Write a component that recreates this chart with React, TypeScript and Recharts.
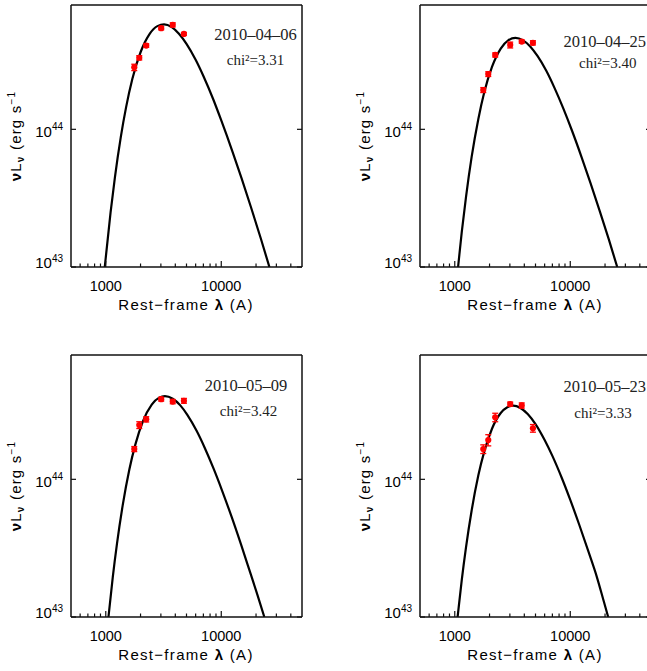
import React from "react";
import { ComposedChart, ErrorBar, Line, Scatter, XAxis, YAxis } from "recharts";

const SANS = '"Liberation Sans", Arial, Helvetica, sans-serif';
const SERIF = '"Liberation Serif", "Times New Roman", serif';

// axes
const X_DOMAIN = [500, 50000];
const Y_DOMAIN = [1e43, 8e44];
const X_TICKS = [600, 700, 800, 900, 1000, 2000, 3000, 4000, 5000, 6000, 7000, 8000, 9000, 10000, 20000, 30000, 40000];
const X_LABELED = [1000, 10000];
const Y_TICKS = [1e43, 1e44];
const Y_EXPONENTS = ["43", "44"];

// epochs
const DATES = ["2010–04–06", "2010–04–25", "2010–05–09", "2010–05–23"];
const CHI2 = ["3.31", "3.40", "3.42", "3.33"];

// UVOT photometry, rest-frame wavelength (A)
const FILTER_LAMBDA = [1765, 1950, 2240, 3020, 3800, 4750];

const OBS_0406 = [2.82e44, 3.31e44, 4.06e44, 5.43e44, 5.74e44, 4.93e44];
const ERR_0406 = [0.15e44, 0.12e44, 0.12e44, 0.15e44, 0.2e44, 0.12e44];
const OBS_0425 = [1.93e44, 2.52e44, 3.47e44, 4.1e44, 4.34e44, 4.25e44];
const ERR_0425 = [0.08e44, 0.1e44, 0.12e44, 0.2e44, 0.12e44, 0.15e44];
const OBS_0509 = [1.66e44, 2.48e44, 2.73e44, 3.82e44, 3.67e44, 3.72e44];
const ERR_0509 = [0.07e44, 0.14e44, 0.12e44, 0.12e44, 0.13e44, 0.15e44];
const OBS_0523 = [1.66e44, 1.93e44, 2.82e44, 3.52e44, 3.44e44, 2.35e44];
const ERR_0523 = [0.12e44, 0.18e44, 0.2e44, 0.12e44, 0.15e44, 0.15e44];

// fitted blackbody curves
const MODEL_LAMBDA_0406 = [980, 1100, 1200, 1350, 1500, 1700, 2000, 2400, 2800, 3200, 3700, 4300, 5000, 6000, 7000, 8500, 10000, 12500, 15000, 18000, 22000, 26100];
const MODEL_0406 = [1.0e43, 2.48e43, 4.48e43, 8.81e43, 1.45e44, 2.33e44, 3.63e44, 4.94e44, 5.62e44, 5.78e44, 5.55e44, 4.95e44, 4.18e44, 3.2e44, 2.44e44, 1.66e44, 1.16e44, 6.9e43, 4.4e43, 2.75e43, 1.61e43, 1.0e43];

const MODEL_LAMBDA_0425 = [1068, 1150, 1250, 1400, 1600, 1800, 2100, 2500, 2900, 3350, 3900, 4500, 5200, 6200, 7300, 8700, 10300, 12500, 15000, 18000, 21500, 25500];
const MODEL_0425 = [1.0e43, 1.8e43, 3.21e43, 6.3e43, 1.19e44, 1.86e44, 2.84e44, 3.86e44, 4.43e44, 4.61e44, 4.43e44, 4.0e44, 3.41e44, 2.66e44, 2.0e44, 1.42e44, 9.89e43, 6.32e43, 4.05e43, 2.55e43, 1.6e43, 1.0e43];

const MODEL_LAMBDA_0509 = [1055, 1150, 1250, 1400, 1600, 1800, 2100, 2500, 2900, 3250, 3800, 4400, 5100, 6100, 7200, 8600, 10200, 12300, 14800, 17500, 20500, 23600];
const MODEL_0509 = [1.0e43, 1.95e43, 3.4e43, 6.44e43, 1.18e44, 1.78e44, 2.65e44, 3.49e44, 3.92e44, 4.02e44, 3.85e44, 3.46e44, 2.93e44, 2.26e44, 1.69e44, 1.19e44, 8.22e43, 5.33e43, 3.38e43, 2.2e43, 1.46e43, 1.0e43];

const MODEL_LAMBDA_0523 = [1058, 1150, 1250, 1400, 1600, 1800, 2100, 2500, 2850, 3200, 3700, 4300, 5000, 6000, 7000, 8500, 10000, 12000, 14500, 17000, 19500, 21300];
const MODEL_0523 = [1.0e43, 1.86e43, 3.19e43, 5.94e43, 1.07e44, 1.59e44, 2.33e44, 3.03e44, 3.34e44, 3.43e44, 3.3e44, 2.97e44, 2.52e44, 1.93e44, 1.48e44, 1.01e44, 7.09e43, 4.64e43, 2.92e43, 1.95e43, 1.3e43, 1.0e43];

const PANELS = [
  { lam: MODEL_LAMBDA_0406, model: MODEL_0406, obs: OBS_0406, err: ERR_0406 },
  { lam: MODEL_LAMBDA_0425, model: MODEL_0425, obs: OBS_0425, err: ERR_0425 },
  { lam: MODEL_LAMBDA_0509, model: MODEL_0509, obs: OBS_0509, err: ERR_0509 },
  { lam: MODEL_LAMBDA_0523, model: MODEL_0523, obs: OBS_0523, err: ERR_0523 },
];

// layout
const PANEL_W = 320;
const PANEL_H = 320;
const PANEL_POS = [
  { left: 0, top: 0 },
  { left: 349, top: 0 },
  { left: 0, top: 350 },
  { left: 349, top: 350 },
];
const NOTE_POS = [
  { dateX: 255.5, dateY: 40, chiX: 255.5, chiY: 65 },
  { dateX: 255.7, dateY: 46.5, chiX: 258.8, chiY: 68.3 },
  { dateX: 246, dateY: 41, chiX: 248.5, chiY: 66 },
  { dateX: 255.7, dateY: 41.7, chiX: 254, chiY: 68.3 },
];
const AXIS_LINE = { stroke: "#111", strokeWidth: 1.5 };

const xTick = (side: "top" | "bottom") => (props: any) => {
  const { x, y, payload } = props;
  const major = X_LABELED.includes(payload.value);
  const len = major ? 6 : 3.5;
  const dir = side === "bottom" ? -1 : 1;
  return (
    <g>
      <line x1={x} x2={x} y1={y} y2={y + dir * len} stroke="#111" strokeWidth={1.2} />
      {side === "bottom" && major && (
        <text x={x} y={y + 23.5} textAnchor="middle" fontFamily={SANS} fontSize={14.5} fill="#000">
          {payload.value}
        </text>
      )}
    </g>
  );
};

const yTick = (side: "left" | "right") => (props: any) => {
  const { x, y, payload } = props;
  const dir = side === "left" ? 1 : -1;
  const i = Y_TICKS.indexOf(payload.value);
  const atBottom = payload.value === Y_DOMAIN[0];
  return (
    <g>
      <line x1={x} x2={x + dir * 5} y1={y} y2={y} stroke="#111" strokeWidth={1.2} />
      {side === "left" && (
        <text x={x - 8} y={atBottom ? y + 1 : y + 7.3} textAnchor="end" fontFamily={SANS} fontSize={15} fill="#000">
          10
          <tspan fontSize={10} dy={-6.5}>
            {Y_EXPONENTS[i]}
          </tspan>
        </text>
      )}
    </g>
  );
};

function Dot(props: any) {
  const { cx, cy } = props;
  return <circle cx={cx} cy={cy} r={3.1} fill="#ff0000" />;
}

function SedPanel({ idx }: { idx: number }) {
  const p = PANELS[idx];
  const pos = PANEL_POS[idx];
  const note = NOTE_POS[idx];
  const curve = p.lam.map((lam, i) => ({ lam, L: p.model[i] }));
  const points = FILTER_LAMBDA.map((lam, i) => ({ lam, L: p.obs[i], err: p.err[i] }));

  return (
    <div style={{ position: "absolute", left: pos.left, top: pos.top, width: PANEL_W, height: PANEL_H }}>
      <ComposedChart width={PANEL_W} height={PANEL_H} margin={{ top: 0, right: 0, bottom: 0, left: 0 }}>
        <XAxis
          type="number"
          dataKey="lam"
          scale="log"
          domain={X_DOMAIN}
          allowDataOverflow
          ticks={X_TICKS}
          interval={0}
          height={53}
          tickSize={0}
          tickMargin={0}
          tickLine={false}
          axisLine={AXIS_LINE}
          tick={xTick("bottom")}
        />
        <XAxis
          xAxisId="top"
          orientation="top"
          type="number"
          scale="log"
          domain={X_DOMAIN}
          allowDataOverflow
          ticks={X_TICKS}
          interval={0}
          height={5}
          tickSize={0}
          tickMargin={0}
          tickLine={false}
          axisLine={AXIS_LINE}
          tick={xTick("top")}
        />
        <YAxis
          type="number"
          dataKey="L"
          scale="log"
          domain={Y_DOMAIN}
          allowDataOverflow
          ticks={Y_TICKS}
          interval={0}
          width={71}
          tickSize={0}
          tickMargin={0}
          tickLine={false}
          axisLine={AXIS_LINE}
          tick={yTick("left")}
        />
        <YAxis
          yAxisId="right"
          orientation="right"
          type="number"
          scale="log"
          domain={Y_DOMAIN}
          allowDataOverflow
          ticks={Y_TICKS}
          interval={0}
          width={18}
          tickSize={0}
          tickMargin={0}
          tickLine={false}
          axisLine={AXIS_LINE}
          tick={yTick("right")}
        />
        <Line
          data={curve}
          dataKey="L"
          type="monotone"
          stroke="#000"
          strokeWidth={2.2}
          dot={false}
          activeDot={false}
          isAnimationActive={false}
        />
        <Scatter data={points} dataKey="L" shape={Dot} isAnimationActive={false}>
          <ErrorBar dataKey="err" direction="y" width={3} stroke="#ff0000" strokeWidth={1.3} />
        </Scatter>
      </ComposedChart>
      <svg
        width={PANEL_W}
        height={PANEL_H}
        style={{ position: "absolute", left: 0, top: 0, pointerEvents: "none", overflow: "visible" }}
      >
        <text
          transform="translate(20.5,136) rotate(-90)"
          textAnchor="middle"
          fontFamily={SANS}
          fontSize={15}
          letterSpacing={1.2}
          fill="#000"
        >
          <tspan fontWeight="bold">ν</tspan>L
          <tspan fontSize={10} fontWeight="bold" dy={3}>
            ν
          </tspan>
          <tspan dy={-3}> (erg s</tspan>
          <tspan fontSize={10} dy={-6}>
            −1
          </tspan>
        </text>
        <text x={186} y={310} textAnchor="middle" fontFamily={SANS} fontSize={15} letterSpacing={1.3} fill="#000">
          Rest−frame <tspan fontWeight="bold">λ</tspan> (A)
        </text>
        <text x={note.dateX} y={note.dateY} textAnchor="middle" fontFamily={SERIF} fontSize={16.5} fill="#222">
          {DATES[idx]}
        </text>
        <text x={note.chiX} y={note.chiY} textAnchor="middle" fontFamily={SERIF} fontSize={15} fill="#222">
          {"chi²=" + CHI2[idx]}
        </text>
      </svg>
    </div>
  );
}

export default function App() {
  return (
    <div
      style={{
        position: "absolute",
        left: 0,
        top: 0,
        width: 647,
        height: 671,
        overflow: "hidden",
        background: "#fff",
      }}
    >
      {PANELS.map((_, i) => (
        <SedPanel key={i} idx={i} />
      ))}
    </div>
  );
}
